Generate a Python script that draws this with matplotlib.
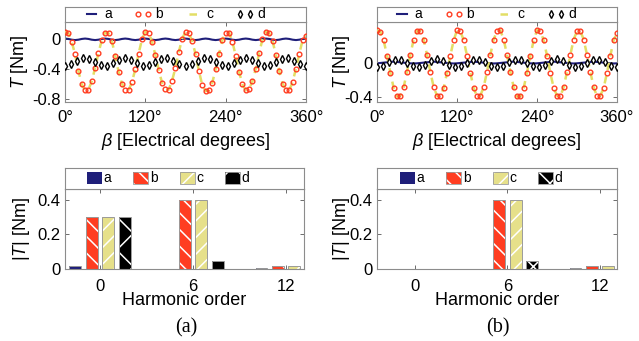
import numpy as np
import matplotlib
matplotlib.use('Agg')
import matplotlib.pyplot as plt
from matplotlib.lines import Line2D
from matplotlib.patches import Patch

plt.rcParams['font.family'] = ['Liberation Sans', 'DejaVu Sans']
plt.rcParams['mathtext.fontset'] = 'custom'
plt.rcParams['mathtext.it'] = 'Liberation Sans:italic'
plt.rcParams['mathtext.rm'] = 'Liberation Sans'
plt.rcParams['axes.unicode_minus'] = False
plt.rcParams['hatch.linewidth'] = 1.1

# ---- torque waveforms ----
beta_fine = np.arange(0, 361, 5)     # a, b, c sampled every 5 deg
beta_d = np.arange(0, 361, 9)        # d sampled every 9 deg

a_left = [0.010, 0.005, -0.005, -0.010, -0.005, 0.005,
          0.010, 0.005, -0.005, -0.010, -0.005, 0.005,
          0.010, 0.005, -0.005, -0.010, -0.005, 0.005,
          0.010, 0.005, -0.005, -0.010, -0.005, 0.005,
          0.010, 0.005, -0.005, -0.010, -0.005, 0.005,
          0.010, 0.005, -0.005, -0.010, -0.005, 0.005,
          0.010, 0.005, -0.005, -0.010, -0.005, 0.005,
          0.010, 0.005, -0.005, -0.010, -0.005, 0.005,
          0.010, 0.005, -0.005, -0.010, -0.005, 0.005,
          0.010, 0.005, -0.005, -0.010, -0.005, 0.005,
          0.010, 0.005, -0.005, -0.010, -0.005, 0.005,
          0.010, 0.005, -0.005, -0.010, -0.005, 0.005,
          0.010]
b_left = [0.10, 0.08, -0.03, -0.20, -0.42, -0.60, -0.68, -0.67, -0.56, -0.38, -0.18, -0.01,
          0.09, 0.08, -0.02, -0.22, -0.43, -0.59, -0.67, -0.68, -0.57, -0.40, -0.19, 0.00,
          0.10, 0.09, -0.03, -0.21, -0.41, -0.58, -0.66, -0.67, -0.55, -0.38, -0.17, 0.01,
          0.10, 0.08, -0.02, -0.20, -0.42, -0.61, -0.69, -0.68, -0.58, -0.40, -0.20, -0.01,
          0.09, 0.09, -0.03, -0.22, -0.43, -0.60, -0.68, -0.66, -0.56, -0.39, -0.18, 0.00,
          0.10, 0.08, -0.02, -0.21, -0.42, -0.59, -0.67, -0.68, -0.57, -0.39, -0.19, -0.01,
          0.05]
c_left = b_left
d_left = [-0.35, -0.33, -0.285, -0.25, -0.26, -0.30, -0.34, -0.35, -0.315, -0.27,
          -0.25, -0.27, -0.315, -0.35, -0.34, -0.30, -0.26, -0.25, -0.285, -0.33,
          -0.35, -0.33, -0.285, -0.25, -0.26, -0.30, -0.34, -0.35, -0.315, -0.27,
          -0.25, -0.27, -0.315, -0.35, -0.34, -0.30, -0.26, -0.25, -0.285, -0.33,
          -0.35]

a_right = [0.000, 0.004, 0.008, 0.012, 0.016, 0.020, 0.016, 0.012, 0.008, 0.004, 0.000, -0.002,
           0.000, 0.004, 0.008, 0.012, 0.016, 0.020, 0.016, 0.012, 0.008, 0.004, 0.000, -0.002,
           0.000, 0.004, 0.008, 0.012, 0.016, 0.020, 0.016, 0.012, 0.008, 0.004, 0.000, -0.002,
           0.000, 0.004, 0.008, 0.012, 0.016, 0.020, 0.016, 0.012, 0.008, 0.004, 0.000, -0.002,
           0.000, 0.004, 0.008, 0.012, 0.016, 0.020, 0.016, 0.012, 0.008, 0.004, 0.000, -0.002,
           0.000, 0.004, 0.008, 0.012, 0.016, 0.020, 0.016, 0.012, 0.008, 0.004, 0.000, -0.002,
           0.000]
b_right = [0.39, 0.37, 0.27, 0.09, -0.11, -0.29, -0.39, -0.38, -0.28, -0.10, 0.10, 0.28,
           0.38, 0.38, 0.28, 0.10, -0.10, -0.28, -0.38, -0.39, -0.29, -0.11, 0.09, 0.27,
           0.39, 0.38, 0.27, 0.09, -0.11, -0.29, -0.39, -0.38, -0.28, -0.10, 0.10, 0.28,
           0.38, 0.39, 0.28, 0.10, -0.10, -0.28, -0.39, -0.39, -0.29, -0.11, 0.09, 0.27,
           0.39, 0.38, 0.27, 0.09, -0.11, -0.29, -0.38, -0.39, -0.28, -0.10, 0.10, 0.28,
           0.38, 0.38, 0.28, 0.10, -0.10, -0.28, -0.39, -0.38, -0.29, -0.11, 0.09, 0.27,
           0.36]
c_right = b_right
d_right = [-0.045, -0.026, 0.014, 0.043, 0.036, 0.000, -0.036, -0.043, -0.014, 0.026,
           0.045, 0.026, -0.014, -0.043, -0.036, 0.000, 0.036, 0.043, 0.014, -0.026,
           -0.045, -0.026, 0.014, 0.043, 0.036, 0.000, -0.036, -0.043, -0.014, 0.026,
           0.045, 0.026, -0.014, -0.043, -0.036, 0.000, 0.036, 0.043, 0.014, -0.026,
           -0.045]

# ---- harmonic amplitudes ----
orders = [0, 6, 12]
h_left = {'a': [0.015, 0.0, 0.005], 'b': [0.30, 0.40, 0.02],
          'c': [0.30, 0.40, 0.02], 'd': [0.30, 0.049, 0.0]}
h_right = {'a': [0.0, 0.0, 0.005], 'b': [0.0, 0.40, 0.02],
           'c': [0.0, 0.40, 0.02], 'd': [0.0, 0.044, 0.0]}

names = ['a', 'b', 'c', 'd']
navy = '#1f1f7a'
red = '#ff3d21'
khaki = '#e6e08a'
yellow = '#e3de66'
frame = '#8c8c8c'
bar_face = {'a': navy, 'b': red, 'c': khaki, 'd': 'black'}
bar_hatch = {'a': None, 'b': '\\\\', 'c': '//', 'd': 'x'}

LBL = 13
TCK = 12
LEG = 10

W, H = 639, 341
fig = plt.figure(figsize=(6.39, 3.41), dpi=100)


def px_axes(x0, x1, y0, y1):
    return fig.add_axes([x0 / W, (H - y1) / H, (x1 - x0) / W, (y1 - y0) / H])


def style(ax):
    for s in ax.spines.values():
        s.set_color(frame)
        s.set_linewidth(0.8)
    ax.tick_params(direction='in', length=3, width=0.6, color='#555555',
                   labelsize=TCK, top=True, right=True, pad=3)


def legend_box(x0, x1, y0, y1):
    lax = px_axes(x0, x1, y0, y1)
    lax.set_xticks([])
    lax.set_yticks([])
    for s in lax.spines.values():
        s.set_color(frame)
        s.set_linewidth(0.8)
    return lax


def wave_panel(ax, lax, a, b, c, d, ylim, yticks, xoff):
    style(ax)
    ax.plot(beta_fine, a, color=navy, lw=1.5, zorder=2)
    ax.plot(beta_fine, c, color=yellow, lw=1.8, ls=(0, (3, 2.5)), zorder=3)
    ax.plot(beta_fine, b, ls='none', marker='o', ms=3.4, mfc='none', mec=red, mew=1.0, zorder=4)
    ax.plot(beta_d, d, ls='none', marker='d', ms=4.2, mfc='white', mec='black', mew=1.0, zorder=5)
    ax.set_xlim(0, 360)
    ax.set_ylim(*ylim)
    ax.set_xticks([0, 120, 240, 360])
    ax.set_xticklabels(['0°', '120°', '240°', '360°'])
    ax.set_yticks(yticks)
    ax.set_yticklabels(['%g' % t for t in yticks])
    ax.tick_params(axis='x', pad=6)
    ax.set_xlabel(r'$\beta$ [Electrical degrees]', fontsize=LBL)
    ax.xaxis.set_label_coords(0.5, -0.36)
    ax.xaxis.label.set_va('top')
    ax.set_ylabel(r'$T$ [Nm]', fontsize=LBL)
    handles = [Line2D([], [], color=navy, lw=1.5),
               Line2D([], [], ls='none', marker='o', ms=3.4, mfc='none', mec=red, mew=1.0),
               Line2D([], [], color=yellow, lw=1.8, ls=(0, (3, 2.5))),
               Line2D([], [], ls='none', marker='d', ms=4.2, mfc='white', mec='black', mew=1.0)]
    lax.legend(handles, names, ncol=4, loc='center left', bbox_to_anchor=(xoff, 0.5),
               frameon=False, fontsize=LEG, handlelength=1.3, handletextpad=0.25,
               columnspacing=1.6, borderpad=0, borderaxespad=0, numpoints=2)


def bar_panel(ax, lax, h, xlim, xoff):
    style(ax)
    slot = 1.06
    width = 0.77
    for i, n in enumerate(names):
        xs = np.array(orders) + (i - 1.5) * slot
        vals = np.array(h[n])
        keep = vals > 0
        ax.bar(xs[keep], vals[keep], width=width, color=bar_face[n],
               edgecolor='white' if bar_hatch[n] else bar_face[n],
               hatch=bar_hatch[n], linewidth=0, zorder=2)
        ax.bar(xs[keep], vals[keep], width=width, fill=False,
               edgecolor='#9a9a9a', linewidth=0.7, zorder=3)
    ax.set_xlim(*xlim)
    ax.set_ylim(0, 0.462)
    ax.set_xticks(orders)
    ax.set_yticks([0, 0.2, 0.4])
    ax.set_yticklabels(['0', '0.2', '0.4'])
    ax.tick_params(axis='x', pad=7)
    ax.set_xlabel('Harmonic order', fontsize=LBL)
    ax.xaxis.set_label_coords(0.5, -0.29)
    ax.xaxis.label.set_va('top')
    ax.set_ylabel(r'$|T|$ [Nm]', fontsize=LBL)
    handles = []
    for n in names:
        if bar_hatch[n]:
            handles.append((Patch(facecolor=bar_face[n], edgecolor='white', hatch=bar_hatch[n], lw=0),
                            Patch(fill=False, edgecolor='#9a9a9a', lw=0.6)))
        else:
            handles.append(Patch(facecolor=bar_face[n], edgecolor=bar_face[n], lw=0))
    lax.legend(handles, names, ncol=4, loc='center left', bbox_to_anchor=(xoff, 0.5),
               frameon=False, fontsize=LEG, handlelength=1.08, handleheight=0.94,
               handletextpad=0.1, columnspacing=1.6, borderpad=0, borderaxespad=0)


# top row
ax1 = px_axes(65, 306, 22, 102)
lax1 = legend_box(65, 306, 7, 22)
wave_panel(ax1, lax1, a_left, b_left, c_left, d_left, (-0.836, 0.231), [-0.8, -0.4, 0], 0.072)
ax1.yaxis.set_label_coords(-0.145, 0.5)

ax2 = px_axes(377, 617, 22, 102)
lax2 = legend_box(377, 617, 7, 22)
wave_panel(ax2, lax2, a_right, b_right, c_right, d_right, (-0.455, 0.486), [-0.4, 0], 0.068)
ax2.yaxis.set_label_coords(-0.104, 0.5)

# bottom row
ax3 = px_axes(65, 304, 189, 269)
lax3 = legend_box(65, 304, 168, 189)
bar_panel(ax3, lax3, h_left, (-2.25, 13.15), 0.092)
ax3.yaxis.set_label_coords(-0.138, 0.5)

ax4 = px_axes(377, 617, 189, 269)
lax4 = legend_box(377, 617, 168, 189)
bar_panel(ax4, lax4, h_right, (-2.45, 13.1), 0.096)
ax4.yaxis.set_label_coords(-0.104, 0.5)

fig.text(186 / W, (H - 328) / H, '(a)', family='Liberation Serif', fontsize=14.5,
         ha='center', va='center')
fig.text(498 / W, (H - 328) / H, '(b)', family='Liberation Serif', fontsize=14.5,
         ha='center', va='center')

fig.savefig('out.png', dpi=100)
plt.close(fig)
